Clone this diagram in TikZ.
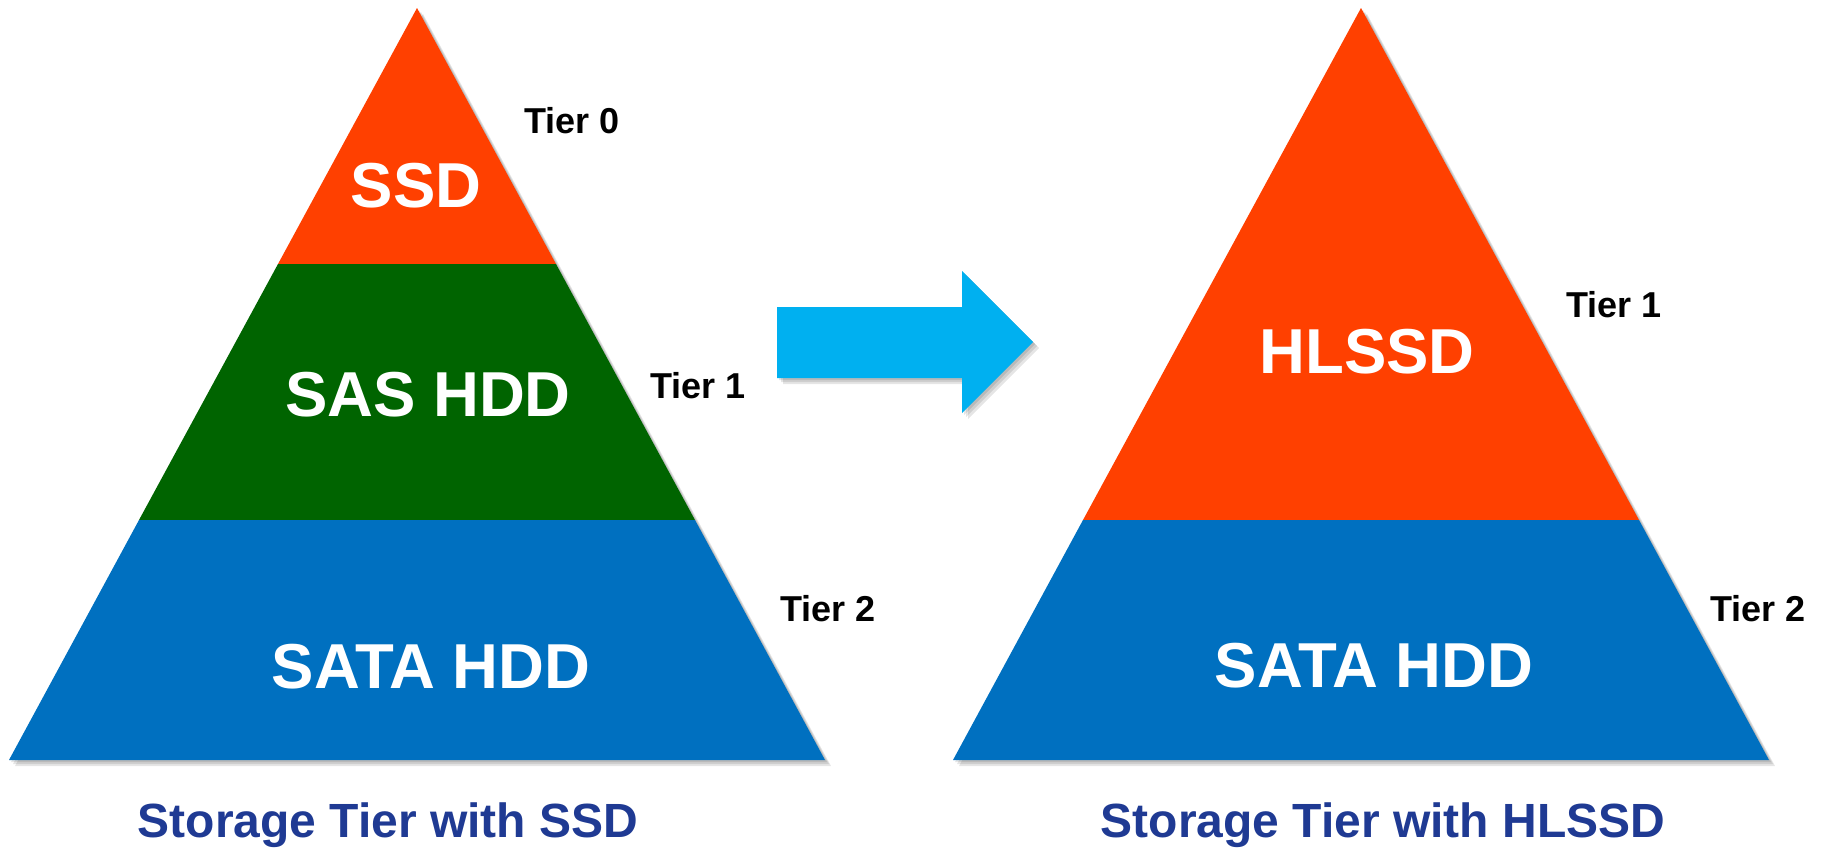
\documentclass[tikz,border=0pt]{standalone}
\usepackage{fontspec}
\setmainfont{Liberation Sans}
\definecolor{ssdorange}{HTML}{FF4000}
\definecolor{sasgreen}{HTML}{006400}
\definecolor{satablue}{HTML}{0070C0}
\definecolor{arrowblue}{HTML}{00B0F0}
\definecolor{capblue}{HTML}{1F3A93}
\tikzset{
  band/.style={draw=none},
  bandlabel/.style={anchor=base, text=white, font=\bfseries\fontsize{63.5}{63.5}\selectfont, inner sep=0pt},
  tierlabel/.style={anchor=base, text=black, font=\bfseries\fontsize{36}{36}\selectfont, inner sep=0pt},
  caption/.style={anchor=base, text=capblue, font=\bfseries\fontsize{48}{48}\selectfont, inner sep=0pt},
  shade1/.style={fill=black, fill opacity=0.10, draw=none},
}
\begin{document}
\begin{tikzpicture}[x=1pt,y=-1pt]
\useasboundingbox (0,0) rectangle (1821,849);
% ---------- left pyramid ----------
\coordinate (LA) at (417,8);
\coordinate (LB1) at (278,264);  \coordinate (LB2) at (556,264);
\coordinate (LC1) at (139,520);  \coordinate (LC2) at (695,520);
\coordinate (LD1) at (9,760);    \coordinate (LD2) at (825,760);
% shadow
\foreach \d in {2,4,6} {
  \fill[shade1] ([shift={(\d,\d)}]LA) -- ([shift={(\d,\d)}]LD2) -- ([shift={(\d,\d)}]LD1) -- cycle;
}
\fill[ssdorange] (LA) -- (LB2) -- (LB1) -- cycle;
\fill[sasgreen] (LB1) -- (LB2) -- (LC2) -- (LC1) -- cycle;
\fill[satablue] (LC1) -- (LC2) -- (LD2) -- (LD1) -- cycle;
\node[bandlabel] (ssd) at (416,207) {SSD};
\node[bandlabel] (sas) at (428,416) {SAS HDD};
\node[bandlabel] (sataL) at (431,688) {SATA HDD};
\node[tierlabel] (t0) at (572,133) {Tier 0};
\node[tierlabel] (t1L) at (698,398) {Tier 1};
\node[tierlabel] (t2L) at (828,621) {Tier 2};
\node[caption] (capL) at (388,837) {Storage Tier with SSD};
% ---------- arrow ----------
\coordinate (A1) at (777,307); \coordinate (A2) at (962,307);
\coordinate (A3) at (962,271); \coordinate (A4) at (1033,342);
\coordinate (A5) at (962,413); \coordinate (A6) at (962,378);
\coordinate (A7) at (777,378);
\foreach \d in {2,4,6} {
  \fill[shade1] ([shift={(\d,\d)}]A1) -- ([shift={(\d,\d)}]A2) -- ([shift={(\d,\d)}]A3) -- ([shift={(\d,\d)}]A4) -- ([shift={(\d,\d)}]A5) -- ([shift={(\d,\d)}]A6) -- ([shift={(\d,\d)}]A7) -- cycle;
}
\fill[arrowblue] (A1) -- (A2) -- (A3) -- (A4) -- (A5) -- (A6) -- (A7) -- cycle;
% ---------- right pyramid ----------
\coordinate (RA) at (1361,8);
\coordinate (RC1) at (1083,520); \coordinate (RC2) at (1639,520);
\coordinate (RD1) at (953,760);  \coordinate (RD2) at (1769,760);
\foreach \d in {2,4,6} {
  \fill[shade1] ([shift={(\d,\d)}]RA) -- ([shift={(\d,\d)}]RD2) -- ([shift={(\d,\d)}]RD1) -- cycle;
}
\fill[ssdorange] (RA) -- (RC2) -- (RC1) -- cycle;
\fill[satablue] (RC1) -- (RC2) -- (RD2) -- (RD1) -- cycle;
\node[bandlabel] (hlssd) at (1367,373) {HLSSD};
\node[bandlabel] (sataR) at (1374,687) {SATA HDD};
\node[tierlabel] (t1R) at (1614,317) {Tier 1};
\node[tierlabel] (t2R) at (1758,621) {Tier 2};
\node[caption] (capR) at (1383,837) {Storage Tier with HLSSD};
\end{tikzpicture}
\end{document}
